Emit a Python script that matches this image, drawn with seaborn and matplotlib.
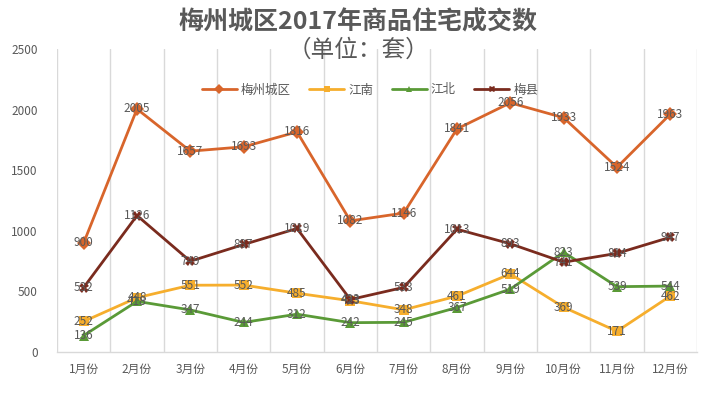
import matplotlib
matplotlib.use("Agg")
import matplotlib.pyplot as plt
import seaborn as sns
import pandas as pd
import numpy as np

months = ["1月份", "2月份", "3月份", "4月份", "5月份", "6月份",
          "7月份", "8月份", "9月份", "10月份", "11月份", "12月份"]
meizhou = [900, 2005, 1657, 1693, 1816, 1082, 1146, 1841, 2056, 1933, 1524, 1963]
jiangnan = [252, 448, 551, 552, 485, 423, 348, 461, 644, 369, 171, 462]
jiangbei = [136, 418, 347, 244, 312, 242, 245, 367, 519, 823, 539, 544]
meixian = [532, 1126, 749, 887, 1019, 433, 533, 1013, 893, 741, 814, 947]

series_names = ["梅州城区", "江南", "江北", "梅县"]
series_vals = [meizhou, jiangnan, jiangbei, meixian]
colors = {"梅州城区": "#D8652B", "江南": "#F6AE2D", "江北": "#5A9A37", "梅县": "#7A2B1E"}
markers = {"梅州城区": "D", "江南": "s", "江北": "^", "梅县": "X"}

rows = []
for name, vals in zip(series_names, series_vals):
    for i, (m, v) in enumerate(zip(months, vals)):
        rows.append({"月份": m, "idx": i, "系列": name, "套数": v})
df = pd.DataFrame(rows)

sns.set_theme(style="white")
plt.rcParams['font.family'] = ['Noto Sans CJK SC', 'DejaVu Sans']

fig = plt.figure(figsize=(7.13, 4.15), dpi=100)
ax = fig.add_axes([57/713, 1-352/415, 640/713, 303/415])

sns.lineplot(data=df, x="idx", y="套数", hue="系列", style="系列",
             palette=colors, markers=markers, dashes=False, linewidth=2.0,
             markersize=7, markeredgewidth=0, ax=ax, legend=True)

# data labels
for name, vals in zip(series_names, series_vals):
    for i, v in enumerate(vals):
        ax.text(i, v, str(v), ha="center", va="center", fontsize=8.5,
                color="#595959", zorder=5)

ax.set_xlim(-0.5, len(months) - 0.5)
ax.set_ylim(0, 2500)
ax.set_yticks([0, 500, 1000, 1500, 2000, 2500])
ax.set_xticks(range(len(months)))
ax.set_xticklabels(months)
ax.set_xticks(np.arange(-0.5, len(months), 1.0), minor=True)
ax.grid(False)
ax.xaxis.grid(True, which="minor", color="#D9D9D9", linewidth=1)
ax.tick_params(axis="both", which="both", length=0, labelsize=8.5, colors="#595959")
ax.tick_params(axis="x", pad=8)
ax.tick_params(axis="y", pad=14)
ax.set_xlabel("")
ax.set_ylabel("")
for s in ["top", "right", "left"]:
    ax.spines[s].set_visible(False)
ax.spines["bottom"].set_color("#D9D9D9")
ax.spines["bottom"].set_linewidth(1)

handles, labels = ax.get_legend_handles_labels()
leg = ax.legend(handles, labels, loc="center", bbox_to_anchor=(370/713, 1-90/415),
                bbox_transform=fig.transFigure, ncol=4, frameon=False, markerscale=0.7,
                fontsize=9, handlelength=2.8, columnspacing=1.5, handletextpad=0.3)
for t in leg.get_texts():
    t.set_color("#595959")

fig.text(358/713, 1-22/415, "梅州城区2017年商品住宅成交数", ha="center", va="center",
         fontsize=18, fontweight="bold", color="#595959")
fig.text(358/713, 1-50/415, "（单位：套）", ha="center", va="center",
         fontsize=17, color="#595959")

fig.savefig("out.png", dpi=100)
